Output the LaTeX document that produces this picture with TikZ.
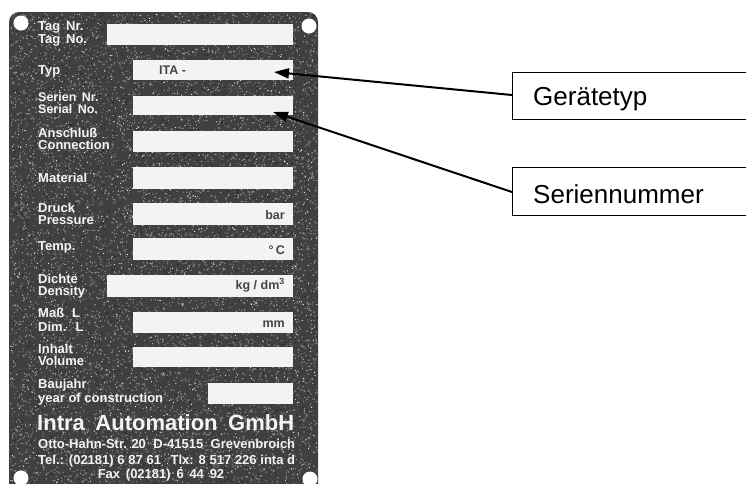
\documentclass[tikz,border=0pt]{standalone}
\usepackage{fontspec}
\setmainfont{Liberation Sans}
\usetikzlibrary{arrows.meta}
\definecolor{platec}{HTML}{404040}
\definecolor{specc}{HTML}{8C8C8C}
\definecolor{fieldc}{HTML}{F3F3F3}
\definecolor{labc}{HTML}{F4F4F4}
\definecolor{unitc}{HTML}{444444}
\begin{document}
\begin{tikzpicture}[x=1pt,y=-1pt,
  field/.style={fill=fieldc,inner sep=0pt,anchor=north west,minimum height=21pt},
  lab/.style={text=labc,font=\fontsize{13}{12}\selectfont\bfseries,anchor=base west,inner sep=0pt,align=left},
  lab2/.style={lab,font=\fontsize{13}{11.5}\selectfont\bfseries},
  unit/.style={text=unitc,font=\fontsize{12.5}{12}\selectfont\bfseries,anchor=base east,inner sep=0pt},
  callout/.style={draw=black,line width=1.2pt,fill=white,anchor=north west,inner sep=0pt,minimum height=47pt,minimum width=260pt},
  ctext/.style={font=\fontsize{26}{26}\selectfont,anchor=base west,inner sep=0pt},
  pointer/.style={line width=2pt,-{Triangle[length=15pt,width=10pt]}}]
\useasboundingbox (0,0) rectangle (746,483);
\clip (0,0) rectangle (746,483);
% plate
\fill[platec,rounded corners=10pt] (9,12) rectangle (318,495);
\pgfmathsetseed{4711}
\foreach \j in {1,...,14} {
  \fill[specc] \foreach \i in {1,...,500} { ({10+307*rnd},{13+470*rnd}) rectangle +(1.1,1.1) };
}
\foreach \j in {1,...,5} {
  \fill[white!80!gray] \foreach \i in {1,...,500} { ({10+307*rnd},{13+470*rnd}) rectangle +(0.9,0.9) };
}
\foreach \j in {1,...,3} {
  \fill[black!85] \foreach \i in {1,...,500} { ({10+307*rnd},{13+470*rnd}) rectangle +(1.2,1.2) };
}
% holes
\fill[white] (21,23) circle (7.5);
\fill[white] (309,26) circle (7.5);
\fill[white] (21,478) circle (7.5);
\fill[white] (310,479) circle (7.5);
% fields
\node[field,minimum width=186pt] (ftag) at (107,24) {};
\node[field,minimum width=160pt,minimum height=20pt] (ftyp) at (133,60) {};
\node[field,minimum width=160pt,minimum height=19pt] (fser) at (133,96) {};
\node[field,minimum width=160pt] (fans) at (133,131) {};
\node[field,minimum width=160pt,minimum height=22pt] (fmat) at (133,167) {};
\node[field,minimum width=160pt,minimum height=22pt] (fdru) at (133,203) {};
\node[field,minimum width=160pt,minimum height=22pt] (ftem) at (133,238) {};
\node[field,minimum width=186pt,minimum height=22pt] (fdic) at (107,275) {};
\node[field,minimum width=160pt] (fmas) at (133,312) {};
\node[field,minimum width=160pt,minimum height=20pt] (finh) at (133,347) {};
\node[field,minimum width=85pt] (fbau) at (208,383) {};
% field texts
\node[text=unitc,font=\fontsize{12.5}{12}\selectfont\bfseries,anchor=base west,inner sep=0pt] (ita) at (159,74) {ITA -};
\node[unit] (ubar) at (285,219) {bar};
\node[unit] (udeg) at (285,254) {°\,C};
\node[unit] (ukg) at (285,289) {kg / dm\textsuperscript{3}};
\node[unit] (umm) at (285,327) {mm};
% labels (two-line nodes are placed at the baseline of their last line)
\node[lab2,font=\fontsize{13}{11}\selectfont\bfseries] (l1) at (38,43) {Tag\, Nr.\\Tag\, No.};
\node[lab] (l2) at (38,74) {Typ};
\node[lab2,font=\fontsize{12.5}{11.5}\selectfont\bfseries] (l3) at (38,113) {Serien\, Nr.\\Serial\, No.};
\node[lab2,font=\fontsize{13}{12}\selectfont\bfseries] (l4) at (38,149) {Anschluß\\Connection};
\node[lab] (l5) at (38,182) {Material};
\node[lab2,font=\fontsize{13}{12}\selectfont\bfseries] (l6) at (38,224) {Druck\\Pressure};
\node[lab] (l7) at (38,250) {Temp.};
\node[lab2,font=\fontsize{13}{12}\selectfont\bfseries] (l8) at (38,295) {Dichte\\Density};
\node[lab2,font=\fontsize{13}{14}\selectfont\bfseries] (l9) at (38,331) {Maß\,\, L\\Dim.\,\, L};
\node[lab2,font=\fontsize{13}{12}\selectfont\bfseries] (l10) at (38,365) {Inhalt\\Volume};
\node[lab2,font=\fontsize{13}{12}\selectfont\bfseries] (l11) at (38,402) {Baujahr\\year of construction};
% maker
\node[lab,font=\fontsize{22}{22}\selectfont\bfseries] (maker) at (37,430) {\makebox[257pt][s]{Intra Automation GmbH}};
\node[lab,font=\fontsize{13}{13}\selectfont\bfseries] (addr) at (38,448) {\makebox[257pt][s]{Otto-Hahn-Str. 20 \, D-41515 \, Grevenbroich}};
\node[lab,font=\fontsize{13}{13}\selectfont\bfseries] (tel) at (38,464) {\makebox[257pt][s]{Tel.: (02181) 6 87 61 \, Tlx: 8 517 226 inta d}};
\node[lab,font=\fontsize{13}{13}\selectfont\bfseries,anchor=base] (fax) at (161,478) {Fax \,(02181) \,6 \,44 \,92};
% callouts
\node[callout] (cgt) at (512,72) {};
\node[ctext] (tgt) at (533,105) {Gerätetyp};
\node[callout,minimum height=48pt] (csn) at (512,167) {};
\node[ctext] (tsn) at (533,203) {Seriennummer};
\coordinate (tipA) at (274,72);
\coordinate (tipB) at (273,112);
\coordinate (startA) at (512,95);
\coordinate (startB) at (512,192);
\draw[pointer] (startA) -- (tipA);
\draw[pointer] (startB) -- (tipB);
\end{tikzpicture}
\end{document}
